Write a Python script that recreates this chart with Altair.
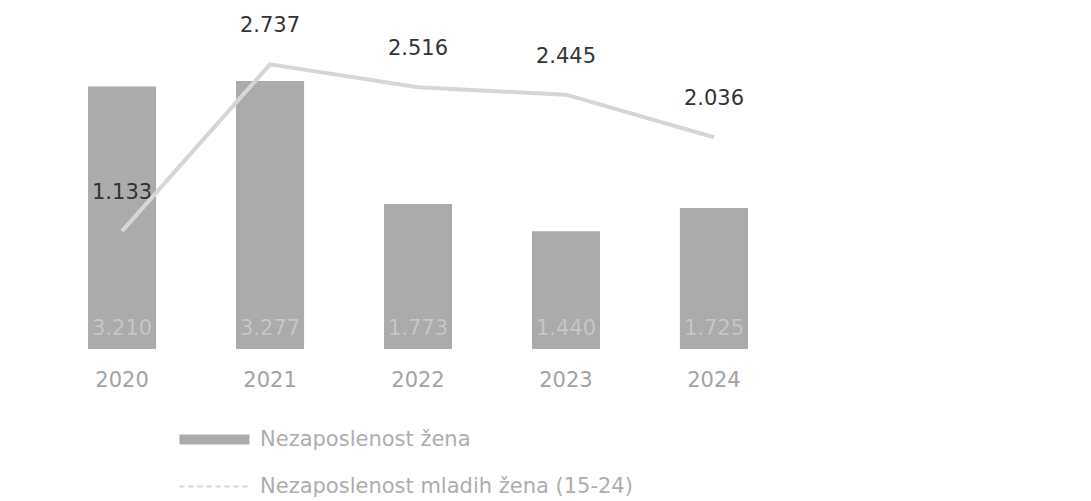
import altair as alt
import pandas as pd

godine = ["2020", "2021", "2022", "2023", "2024"]
nezaposlenost_zena = [3210, 3277, 1773, 1440, 1725]
nezaposlenost_mladih = [1133, 2737, 2516, 2445, 2036]
serija_zene = "Nezaposlenost žena"
serija_mlade = "Nezaposlenost mladih žena (15-24)"


def fmt(v):
    return f"{v:,}".replace(",", ".")


df = pd.DataFrame({
    "godina": godine,
    "zene": nezaposlenost_zena,
    "mlade": nezaposlenost_mladih,
    "zene_lbl": [fmt(v) for v in nezaposlenost_zena],
    "mlade_lbl": [fmt(v) for v in nezaposlenost_mladih],
    "s1": [serija_zene] * len(godine),
    "s2": [serija_mlade] * len(godine),
})

FONT = "DejaVu Sans"

x = alt.X(
    "godina:N",
    sort=godine,
    scale=alt.Scale(paddingInner=0.54, paddingOuter=0.507),
    axis=alt.Axis(title=None, labelAngle=0, domain=False, ticks=False, grid=False,
                  labelPadding=20, labelFontSize=21, labelColor="#a3a3a3",
                  labelFont=FONT),
)

ybar = alt.Y("zene:Q", scale=alt.Scale(domain=[0, 4120], nice=False), axis=None)
yline = alt.Y("mlade:Q", scale=alt.Scale(domain=[0, 3240], nice=False), axis=None)

bars = alt.Chart(df).mark_bar().encode(
    x=x,
    y=ybar,
    color=alt.Color(
        "s1:N",
        scale=alt.Scale(domain=[serija_zene], range=["#ababab"]),
        legend=alt.Legend(
            title=None, orient="none", legendX=191, legendY=417,
            symbolType="M-4,-0.56L4,-0.56L4,0.56L-4,0.56Z", symbolSize=306,
            symbolStrokeWidth=0, symbolOpacity=1,
            labelFontSize=21, labelColor="#adadad", labelFont=FONT,
            labelOffset=35, padding=0, labelLimit=600,
        ),
    ),
)

bar_labels = alt.Chart(df).mark_text(
    dy=-20, baseline="middle", align="center", fontSize=21, font=FONT, color="#c6c6c6"
).encode(x=x, y=alt.datum(0), text="zene_lbl:N")

line = alt.Chart(df).mark_line(strokeWidth=4).encode(
    x=x,
    y=yline,
    color=alt.Color(
        "s2:N",
        scale=alt.Scale(domain=[serija_mlade], range=["#d6d6d6"]),
        legend=alt.Legend(
            title=None, orient="none", legendX=191, legendY=464,
            symbolType="M-4,0L4,0", symbolSize=306, symbolStrokeWidth=2,
            symbolDash=[5, 4],
            labelFontSize=21, labelColor="#adadad", labelFont=FONT,
            labelOffset=35, padding=0, labelLimit=600,
        ),
    ),
)

line_labels = alt.Chart(df).mark_text(
    dy=-38, baseline="middle", align="center", fontSize=21, font=FONT, color="#333333"
).encode(x=x, y=yline, text="mlade_lbl:N")

bar_layer = alt.layer(bars, bar_labels)
line_layer = alt.layer(line, line_labels)

chart = (
    alt.layer(bar_layer, line_layer)
    .resolve_scale(y="independent", color="independent")
    .resolve_legend(color="independent")
    .properties(width=810, height=337,
                padding={"left": 5, "top": 4, "right": 5, "bottom": 0},
                background="white")
    .configure_view(stroke=None)
)

chart.save("out.html", embed_options={"renderer": "svg", "actions": False})
